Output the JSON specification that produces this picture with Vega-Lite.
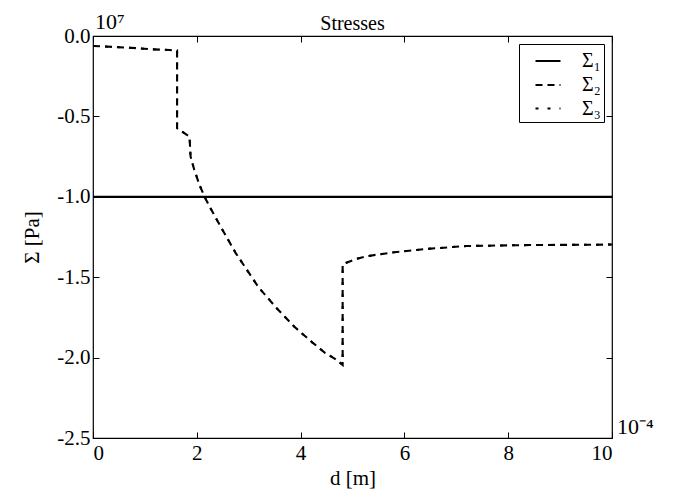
{
  "$schema": "https://vega.github.io/schema/vega-lite/v6.json",
  "width": 519,
  "height": 402,
  "autosize": {"type": "none"},
  "padding": {"left": 93, "top": 36, "right": 86, "bottom": 59},
  "background": "white",
  "config": {
    "font": "Liberation Serif",
    "view": {"stroke": "black", "strokeWidth": 1.2},
    "axis": {
      "domain": false,
      "grid": false,
      "ticks": true,
      "tickColor": "black",
      "tickSize": -6,
      "tickWidth": 1,
      "labelColor": "black",
      "labelFont": "Liberation Serif",
      "labelFontSize": 21,
      "titleFont": "Liberation Serif",
      "titleFontSize": 21,
      "titleFontWeight": "normal",
      "titleColor": "black"
    }
  },
  "title": {"text": "Stresses", "fontSize": 20, "fontWeight": "normal", "color": "black", "font": "Liberation Serif", "offset": -23},
  "datasets": {
    "stress": [
      {"series": "Σ₁", "i": 0, "d": 0, "s": -1.0},
      {"series": "Σ₁", "i": 1, "d": 10, "s": -1.0},
      {"series": "Σ₂", "i": 0, "d": 0, "s": -0.062},
      {"series": "Σ₂", "i": 1, "d": 0.39, "s": -0.068},
      {"series": "Σ₂", "i": 2, "d": 0.71, "s": -0.073},
      {"series": "Σ₂", "i": 3, "d": 1.15, "s": -0.083},
      {"series": "Σ₂", "i": 4, "d": 1.48, "s": -0.087},
      {"series": "Σ₂", "i": 5, "d": 1.62, "s": -0.091},
      {"series": "Σ₂", "i": 6, "d": 1.62, "s": -0.574},
      {"series": "Σ₂", "i": 7, "d": 1.86, "s": -0.626},
      {"series": "Σ₂", "i": 8, "d": 1.88, "s": -0.75},
      {"series": "Σ₂", "i": 9, "d": 1.95, "s": -0.83},
      {"series": "Σ₂", "i": 10, "d": 2.05, "s": -0.925},
      {"series": "Σ₂", "i": 11, "d": 2.15, "s": -1.0},
      {"series": "Σ₂", "i": 12, "d": 2.24, "s": -1.057},
      {"series": "Σ₂", "i": 13, "d": 2.45, "s": -1.18},
      {"series": "Σ₂", "i": 14, "d": 2.75, "s": -1.35},
      {"series": "Σ₂", "i": 15, "d": 3.19, "s": -1.563},
      {"series": "Σ₂", "i": 16, "d": 3.54, "s": -1.693},
      {"series": "Σ₂", "i": 17, "d": 3.88, "s": -1.808},
      {"series": "Σ₂", "i": 18, "d": 4.23, "s": -1.907},
      {"series": "Σ₂", "i": 19, "d": 4.47, "s": -1.97},
      {"series": "Σ₂", "i": 20, "d": 4.7, "s": -2.015},
      {"series": "Σ₂", "i": 21, "d": 4.81, "s": -2.046},
      {"series": "Σ₂", "i": 22, "d": 4.81, "s": -1.42},
      {"series": "Σ₂", "i": 23, "d": 4.92, "s": -1.405},
      {"series": "Σ₂", "i": 24, "d": 5.05, "s": -1.389},
      {"series": "Σ₂", "i": 25, "d": 5.24, "s": -1.372},
      {"series": "Σ₂", "i": 26, "d": 5.47, "s": -1.36},
      {"series": "Σ₂", "i": 27, "d": 5.85, "s": -1.343},
      {"series": "Σ₂", "i": 28, "d": 6.4, "s": -1.325},
      {"series": "Σ₂", "i": 29, "d": 7.2, "s": -1.306},
      {"series": "Σ₂", "i": 30, "d": 8.42, "s": -1.3},
      {"series": "Σ₂", "i": 31, "d": 9.67, "s": -1.298},
      {"series": "Σ₂", "i": 32, "d": 10, "s": -1.297},
      {"series": "Σ₃", "i": 0, "d": 0, "s": -0.062},
      {"series": "Σ₃", "i": 1, "d": 0.39, "s": -0.068},
      {"series": "Σ₃", "i": 2, "d": 0.71, "s": -0.073},
      {"series": "Σ₃", "i": 3, "d": 1.15, "s": -0.083},
      {"series": "Σ₃", "i": 4, "d": 1.48, "s": -0.087},
      {"series": "Σ₃", "i": 5, "d": 1.62, "s": -0.091},
      {"series": "Σ₃", "i": 6, "d": 1.62, "s": -0.574},
      {"series": "Σ₃", "i": 7, "d": 1.86, "s": -0.626},
      {"series": "Σ₃", "i": 8, "d": 1.88, "s": -0.75},
      {"series": "Σ₃", "i": 9, "d": 1.95, "s": -0.83},
      {"series": "Σ₃", "i": 10, "d": 2.05, "s": -0.925},
      {"series": "Σ₃", "i": 11, "d": 2.15, "s": -1.0},
      {"series": "Σ₃", "i": 12, "d": 2.24, "s": -1.057},
      {"series": "Σ₃", "i": 13, "d": 2.45, "s": -1.18},
      {"series": "Σ₃", "i": 14, "d": 2.75, "s": -1.35},
      {"series": "Σ₃", "i": 15, "d": 3.19, "s": -1.563},
      {"series": "Σ₃", "i": 16, "d": 3.54, "s": -1.693},
      {"series": "Σ₃", "i": 17, "d": 3.88, "s": -1.808},
      {"series": "Σ₃", "i": 18, "d": 4.23, "s": -1.907},
      {"series": "Σ₃", "i": 19, "d": 4.47, "s": -1.97},
      {"series": "Σ₃", "i": 20, "d": 4.7, "s": -2.015},
      {"series": "Σ₃", "i": 21, "d": 4.81, "s": -2.046},
      {"series": "Σ₃", "i": 22, "d": 4.81, "s": -1.42},
      {"series": "Σ₃", "i": 23, "d": 4.92, "s": -1.405},
      {"series": "Σ₃", "i": 24, "d": 5.05, "s": -1.389},
      {"series": "Σ₃", "i": 25, "d": 5.24, "s": -1.372},
      {"series": "Σ₃", "i": 26, "d": 5.47, "s": -1.36},
      {"series": "Σ₃", "i": 27, "d": 5.85, "s": -1.343},
      {"series": "Σ₃", "i": 28, "d": 6.4, "s": -1.325},
      {"series": "Σ₃", "i": 29, "d": 7.2, "s": -1.306},
      {"series": "Σ₃", "i": 30, "d": 8.42, "s": -1.3},
      {"series": "Σ₃", "i": 31, "d": 9.67, "s": -1.298},
      {"series": "Σ₃", "i": 32, "d": 10, "s": -1.297}
    ],
    "exponents": [
      {"d": 0, "s": 0, "label": "10⁷", "pos": "top"},
      {"d": 10, "s": -2.5, "label": "10⁻⁴", "pos": "right"}
    ]
  },
  "layer": [
    {
      "data": {"name": "stress"},
      "mark": {"type": "line", "color": "black", "strokeCap": "butt", "clip": true},
      "encoding": {
        "x": {
          "field": "d", "type": "quantitative",
          "scale": {"domain": [0, 10], "nice": false, "zero": false},
          "axis": {"orient": "bottom", "values": [0, 2, 4, 6, 8, 10], "format": "d", "title": "d [m]", "labelPadding": 10, "titlePadding": 4}
        },
        "y": {
          "field": "s", "type": "quantitative",
          "scale": {"domain": [-2.5, 0], "nice": false, "zero": false},
          "axis": {"orient": "left", "values": [-2.5, -2.0, -1.5, -1.0, -0.5, 0.0], "labelExpr": "replace(format(datum.value, '.1f'), '−', '-')", "title": "Σ [Pa]", "labelPadding": 9, "titlePadding": 14}
        },
        "order": {"field": "i", "type": "quantitative"},
        "strokeDash": {
          "field": "series", "type": "nominal",
          "scale": {"domain": ["Σ₁", "Σ₂", "Σ₃"], "range": [[1, 0], [7, 5], [3, 9]]},
          "legend": {
            "title": null,
            "orient": "top-right",
            "offset": 8,
            "padding": 3,
            "strokeColor": "black",
            "fillColor": "white",
            "labelFontSize": 20,
            "labelFont": "Liberation Serif",
            "labelColor": "black",
            "symbolType": "stroke",
            "symbolStrokeColor": "black",
            "symbolSize": 625,
            "symbolOffset": 12,
            "rowPadding": 0,
            "labelOffset": 20
          }
        },
        "strokeWidth": {
          "field": "series", "type": "nominal",
          "scale": {"domain": ["Σ₁", "Σ₂", "Σ₃"], "range": [2.2, 2, 4]},
          "legend": null
        }
      }
    },
    {
      "data": {"name": "exponents"},
      "transform": [{"filter": "datum.pos === 'top'"}],
      "mark": {"type": "text", "align": "left", "baseline": "alphabetic", "dx": 2, "dy": -7, "fontSize": 22, "font": "Liberation Serif", "color": "black"},
      "encoding": {
        "x": {"field": "d", "type": "quantitative", "axis": {"orient": "top", "labels": false, "title": null, "values": [0, 2, 4, 6, 8, 10]}},
        "y": {"field": "s", "type": "quantitative", "axis": {"orient": "right", "labels": false, "title": null, "values": [-2.5, -2.0, -1.5, -1.0, -0.5, 0.0]}},
        "text": {"field": "label"}
      }
    },
    {
      "data": {"name": "exponents"},
      "transform": [{"filter": "datum.pos === 'right'"}],
      "mark": {"type": "text", "align": "left", "baseline": "alphabetic", "dx": 5, "dy": -4, "fontSize": 22, "font": "Liberation Serif", "color": "black"},
      "encoding": {
        "x": {"field": "d", "type": "quantitative", "axis": null},
        "y": {"field": "s", "type": "quantitative", "axis": null},
        "text": {"field": "label"}
      }
    }
  ]
}
